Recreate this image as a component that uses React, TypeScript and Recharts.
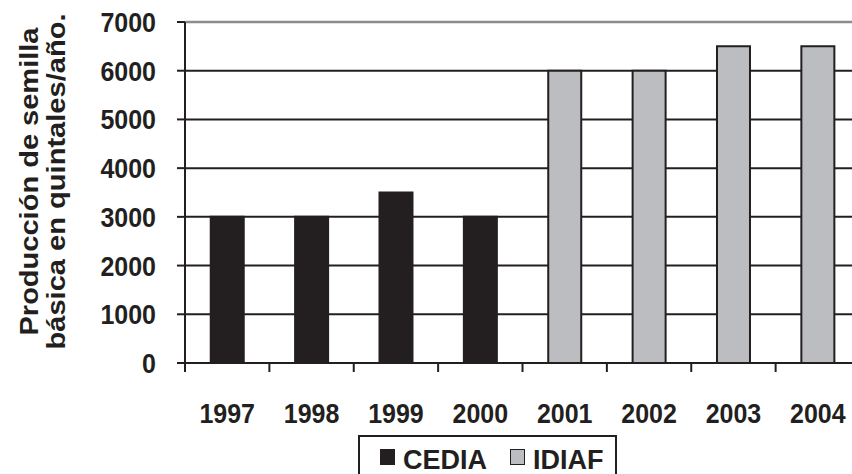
import React from 'react';
import {
  BarChart,
  Bar,
  XAxis,
  YAxis,
  CartesianGrid,
  Legend,
  ReferenceLine,
} from 'recharts';

const years = ['1997', '1998', '1999', '2000', '2001', '2002', '2003', '2004'];
const cediaValues = [3000, 3000, 3500, 3000, null, null, null, null];
const idiafValues = [null, null, null, null, 6000, 6000, 6500, 6500];
const yTicks = [0, 1000, 2000, 3000, 4000, 5000, 6000, 7000];
const yTitleLines = ['Producción de semilla', 'básica en quintales/año.'];
const seriesNames = ['CEDIA', 'IDIAF'];

const data = years.map((y, i) => ({
  year: y,
  CEDIA: cediaValues[i],
  IDIAF: idiafValues[i],
}));

const INK = '#231f20';
const GRAY = '#bcbdc0';
const FONT = '"Liberation Sans", Arial, Helvetica, sans-serif';

const X_TICK_SIZE = 9;
const X_TICK_MARGIN = 30;
const TEXT_STRETCH = 1.13;

const XTick = (props: any) => {
  const { x, y, payload } = props;
  const half = payload && typeof payload.offset === 'number' ? payload.offset : 42.2;
  const axisY = y - X_TICK_MARGIN - X_TICK_SIZE;
  return (
    <g>
      <line x1={x - half} x2={x - half} y1={axisY} y2={axisY + X_TICK_SIZE} stroke={INK} strokeWidth={2} />
      <text
        transform={`translate(${x},${y + 21}) scale(1,${TEXT_STRETCH})`}
        textAnchor="middle"
        fill={INK}
        fontSize={25}
        fontWeight="bold"
        fontFamily={FONT}
      >
        {payload.value}
      </text>
    </g>
  );
};

const YTick = (props: any) => {
  const { x, y, payload } = props;
  return (
    <text
      transform={`translate(${x},${y + 10}) scale(1,${TEXT_STRETCH})`}
      textAnchor="end"
      fill={INK}
      fontSize={25}
      fontWeight="bold"
      fontFamily={FONT}
    >
      {payload.value}
    </text>
  );
};

const YTitle = (props: any) => {
  const vb = props.viewBox || { x: 0, y: 22, width: 185, height: 341 };
  const cy = vb.y + vb.height / 2 - 11;
  return (
    <g>
      <text
        transform={`translate(${vb.x + 38},${cy}) rotate(-90)`}
        textAnchor="middle"
        fill={INK}
        fontSize={26}
        fontWeight="bold"
        fontFamily={FONT}
        textLength={308}
        lengthAdjust="spacingAndGlyphs"
      >
        {yTitleLines[0]}
      </text>
      <text
        transform={`translate(${vb.x + 65},${cy}) rotate(-90)`}
        textAnchor="middle"
        fill={INK}
        fontSize={26}
        fontWeight="bold"
        fontFamily={FONT}
        textLength={336}
        lengthAdjust="spacingAndGlyphs"
      >
        {yTitleLines[1]}
      </text>
    </g>
  );
};

const LegendBox = () => {
  const colors = [INK, GRAY];
  const iconLeft = [20, 150];
  const textLeft = [43, 173];
  return (
    <div
      style={{
        position: 'relative',
        boxSizing: 'border-box',
        width: 259,
        height: 45,
        border: `2px solid ${INK}`,
        background: '#fff',
        fontFamily: FONT,
      }}
    >
      {seriesNames.map((name, i) => (
        <React.Fragment key={name}>
          <div
            style={{
              position: 'absolute',
              left: iconLeft[i],
              top: 12,
              width: 15,
              height: 16,
              boxSizing: 'border-box',
              background: colors[i],
              border: `1.5px solid ${INK}`,
            }}
          />
          <span
            style={{
              position: 'absolute',
              left: textLeft[i],
              top: 10,
              fontSize: 27,
              lineHeight: '27px',
              fontWeight: 'bold',
              color: INK,
              whiteSpace: 'nowrap',
              transform: 'scale(1,1.05)',
              transformOrigin: 'left bottom',
            }}
          >
            {name}
          </span>
        </React.Fragment>
      ))}
    </div>
  );
};

export default function App() {
  return (
    <div
      style={{
        position: 'absolute',
        left: 0,
        top: 0,
        width: 852,
        height: 474,
        overflow: 'hidden',
        background: '#fff',
      }}
    >
      <BarChart
        width={870}
        height={474}
        data={data}
        margin={{ top: 22, right: 10, bottom: 0, left: 0 }}
        barCategoryGap="30.5%"
      >
        <CartesianGrid vertical={false} stroke={INK} strokeWidth={2} />
        <XAxis
          dataKey="year"
          height={66}
          axisLine={{ stroke: INK, strokeWidth: 2 }}
          tickLine={false}
          tickSize={X_TICK_SIZE}
          tickMargin={X_TICK_MARGIN}
          tick={<XTick />}
          interval={0}
        />
        <YAxis
          width={185}
          domain={[0, 7000]}
          ticks={yTicks}
          interval={0}
          axisLine={{ stroke: INK, strokeWidth: 2 }}
          tickLine={{ stroke: INK, strokeWidth: 2 }}
          tickSize={8}
          tickMargin={21}
          tick={<YTick />}
          label={(p: any) => <YTitle {...p} />}
        />
        <ReferenceLine y={7000} stroke="#8c8c8c" strokeWidth={2.5} />
        <Legend
          content={() => <LegendBox />}
          wrapperStyle={{ left: 358, top: 435, bottom: 'auto', width: 259, height: 45 }}
        />
        <Bar dataKey="CEDIA" stackId="a" fill={INK} stroke={INK} strokeWidth={2} isAnimationActive={false} />
        <Bar dataKey="IDIAF" stackId="a" fill={GRAY} stroke={INK} strokeWidth={2} isAnimationActive={false} />
      </BarChart>
    </div>
  );
}
